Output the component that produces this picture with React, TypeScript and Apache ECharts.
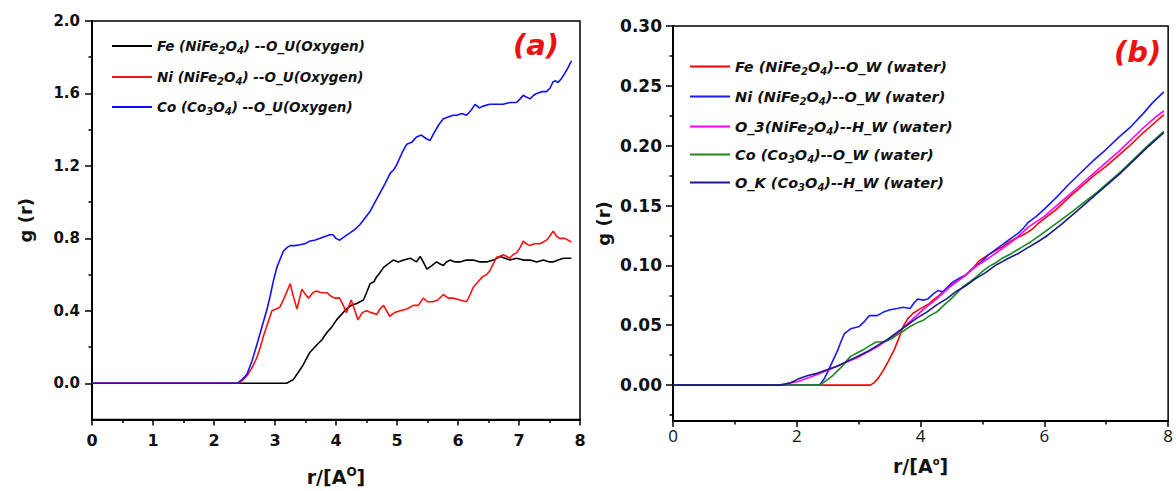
import React, { useEffect, useRef } from "react";
import * as echarts from "echarts";

// ---------- Data ----------
const leftFe: [number, number][] = [
  [0, 0], [3.19, 0], [3.3, 0.02], [3.36, 0.05], [3.46, 0.1], [3.57, 0.17], [3.68, 0.21], [3.77, 0.24], [3.85, 0.28],
  [3.93, 0.31], [4.01, 0.35], [4.09, 0.38], [4.17, 0.41], [4.25, 0.43], [4.34, 0.44], [4.45, 0.46], [4.5, 0.5],
  [4.56, 0.55], [4.62, 0.56], [4.67, 0.59], [4.72, 0.61], [4.78, 0.64], [4.86, 0.66], [4.94, 0.68], [5.02, 0.67],
  [5.11, 0.68], [5.22, 0.69], [5.27, 0.68], [5.32, 0.67], [5.38, 0.7], [5.43, 0.67], [5.49, 0.63], [5.57, 0.65],
  [5.65, 0.67], [5.7, 0.66], [5.76, 0.65], [5.81, 0.67], [5.87, 0.68], [5.95, 0.67], [6.03, 0.67], [6.14, 0.68],
  [6.25, 0.68], [6.36, 0.67], [6.47, 0.67], [6.58, 0.68], [6.69, 0.7], [6.77, 0.69], [6.85, 0.68], [6.96, 0.69],
  [7.07, 0.68], [7.18, 0.68], [7.29, 0.67], [7.4, 0.68], [7.5, 0.67], [7.56, 0.67], [7.64, 0.68], [7.73, 0.69], [7.86, 0.69],
];
const leftNi: [number, number][] = [
  [0, 0], [2.4, 0], [2.48, 0.02], [2.56, 0.05], [2.63, 0.09], [2.7, 0.14], [2.76, 0.2], [2.81, 0.26], [2.88, 0.33],
  [2.95, 0.4], [3.02, 0.41], [3.08, 0.42], [3.15, 0.47], [3.2, 0.51], [3.25, 0.55], [3.3, 0.48], [3.36, 0.41],
  [3.44, 0.52], [3.5, 0.49], [3.55, 0.47], [3.62, 0.5], [3.68, 0.51], [3.76, 0.5], [3.85, 0.5], [3.92, 0.48],
  [3.98, 0.47], [4.06, 0.47], [4.12, 0.43], [4.17, 0.39], [4.25, 0.46], [4.3, 0.41], [4.36, 0.35], [4.43, 0.39],
  [4.5, 0.4], [4.58, 0.39], [4.67, 0.38], [4.72, 0.41], [4.78, 0.43], [4.88, 0.37], [4.96, 0.39], [5.05, 0.4],
  [5.16, 0.41], [5.27, 0.43], [5.35, 0.43], [5.43, 0.47], [5.5, 0.45], [5.59, 0.45], [5.67, 0.46], [5.76, 0.49],
  [5.84, 0.47], [5.92, 0.47], [6.03, 0.46], [6.14, 0.45], [6.2, 0.49], [6.25, 0.53], [6.33, 0.56], [6.41, 0.59],
  [6.47, 0.6], [6.52, 0.62], [6.58, 0.66], [6.63, 0.695], [6.68, 0.7], [6.74, 0.71], [6.8, 0.7], [6.85, 0.69],
  [6.9, 0.71], [6.96, 0.72], [7.02, 0.75], [7.07, 0.785], [7.12, 0.77], [7.18, 0.76], [7.25, 0.77], [7.34, 0.77],
  [7.4, 0.78], [7.45, 0.79], [7.5, 0.81], [7.56, 0.84], [7.62, 0.81], [7.67, 0.8], [7.75, 0.8], [7.86, 0.78],
];
const leftCo: [number, number][] = [
  [0, 0], [2.38, 0], [2.46, 0.02], [2.54, 0.05], [2.62, 0.12], [2.7, 0.21], [2.76, 0.28], [2.81, 0.34], [2.87, 0.41],
  [2.92, 0.48], [2.97, 0.56], [3.03, 0.64], [3.09, 0.69], [3.14, 0.73], [3.2, 0.75], [3.25, 0.76], [3.33, 0.76],
  [3.41, 0.765], [3.49, 0.77], [3.57, 0.785], [3.65, 0.79], [3.74, 0.8], [3.82, 0.81], [3.9, 0.82], [3.95, 0.82],
  [4.0, 0.8], [4.06, 0.79], [4.14, 0.81], [4.23, 0.83], [4.31, 0.85], [4.39, 0.875], [4.47, 0.91], [4.56, 0.95],
  [4.64, 1.0], [4.72, 1.05], [4.8, 1.1], [4.89, 1.16], [4.95, 1.18], [5.0, 1.21], [5.08, 1.27], [5.16, 1.32],
  [5.24, 1.33], [5.32, 1.36], [5.4, 1.37], [5.48, 1.35], [5.54, 1.34], [5.62, 1.39], [5.69, 1.43], [5.76, 1.46],
  [5.84, 1.47], [5.92, 1.48], [5.98, 1.48], [6.06, 1.49], [6.14, 1.48], [6.22, 1.51], [6.28, 1.54], [6.35, 1.52],
  [6.41, 1.53], [6.52, 1.54], [6.63, 1.54], [6.74, 1.54], [6.85, 1.55], [6.96, 1.55], [7.02, 1.57], [7.07, 1.59],
  [7.12, 1.58], [7.18, 1.57], [7.24, 1.59], [7.29, 1.6], [7.37, 1.61], [7.45, 1.61], [7.51, 1.63], [7.56, 1.665],
  [7.6, 1.67], [7.64, 1.66], [7.69, 1.68], [7.73, 1.7], [7.8, 1.74], [7.86, 1.78],
];

const rightFe: [number, number][] = [
  [0, 0], [3.19, 0], [3.25, 0.002], [3.32, 0.006], [3.4, 0.0125], [3.48, 0.02], [3.57, 0.029], [3.64, 0.038],
  [3.72, 0.049], [3.8, 0.056], [3.88, 0.06], [3.97, 0.063], [4.07, 0.066], [4.14, 0.068], [4.2, 0.071], [4.28, 0.074],
  [4.36, 0.078], [4.47, 0.082], [4.57, 0.086], [4.68, 0.09], [4.79, 0.0946], [4.87, 0.099], [4.95, 0.104],
  [5.1, 0.109], [5.2, 0.112], [5.32, 0.1155], [5.42, 0.119], [5.53, 0.1225], [5.64, 0.125], [5.74, 0.128],
  [5.82, 0.131], [5.9, 0.135], [6.0, 0.139], [6.2, 0.147], [6.4, 0.157], [6.6, 0.166], [6.8, 0.175], [7.0, 0.183],
  [7.2, 0.192], [7.4, 0.201], [7.6, 0.211], [7.8, 0.22], [7.93, 0.226],
];
const rightNi: [number, number][] = [
  [0, 0], [2.37, 0], [2.44, 0.005], [2.5, 0.011], [2.58, 0.02], [2.66, 0.029], [2.72, 0.037], [2.77, 0.043],
  [2.87, 0.047], [3.01, 0.049], [3.09, 0.053], [3.17, 0.058], [3.3, 0.058], [3.4, 0.061], [3.51, 0.063], [3.62, 0.064],
  [3.72, 0.065], [3.83, 0.064], [3.9, 0.069], [3.96, 0.072], [4.04, 0.071], [4.12, 0.072], [4.2, 0.076], [4.28, 0.079],
  [4.36, 0.078], [4.44, 0.082], [4.52, 0.086], [4.62, 0.089], [4.73, 0.092], [4.81, 0.096], [4.89, 0.099],
  [5.0, 0.104], [5.1, 0.109], [5.18, 0.112], [5.26, 0.115], [5.34, 0.118], [5.42, 0.121], [5.5, 0.124], [5.58, 0.127],
  [5.66, 0.131], [5.74, 0.136], [5.87, 0.141], [6.0, 0.147], [6.2, 0.157], [6.4, 0.168], [6.6, 0.178], [6.8, 0.188],
  [7.0, 0.197], [7.2, 0.207], [7.4, 0.216], [7.6, 0.227], [7.75, 0.236], [7.93, 0.245],
];
const rightO3: [number, number][] = [
  [0, 0], [1.71, 0], [2.02, 0.003], [2.34, 0.009], [2.66, 0.016], [2.98, 0.023], [3.3, 0.032], [3.62, 0.043],
  [3.83, 0.053], [4.04, 0.063], [4.26, 0.072], [4.47, 0.082], [4.68, 0.09], [4.89, 0.099], [5.1, 0.106], [5.32, 0.114],
  [5.53, 0.122], [5.74, 0.132], [6.0, 0.141], [6.2, 0.15], [6.4, 0.159], [6.6, 0.168], [6.8, 0.177], [7.0, 0.186],
  [7.2, 0.195], [7.4, 0.205], [7.6, 0.215], [7.8, 0.224], [7.93, 0.229],
];
const rightCo: [number, number][] = [
  [0, 0], [2.37, 0], [2.4, 0.001], [2.48, 0.004], [2.56, 0.007], [2.64, 0.011], [2.72, 0.015], [2.8, 0.02],
  [2.87, 0.024], [2.98, 0.027], [3.09, 0.03], [3.18, 0.033], [3.28, 0.036], [3.37, 0.036], [3.46, 0.037],
  [3.54, 0.039], [3.62, 0.042], [3.72, 0.045], [3.83, 0.049], [3.94, 0.052], [4.04, 0.054], [4.15, 0.058],
  [4.26, 0.061], [4.36, 0.066], [4.47, 0.071], [4.57, 0.076], [4.68, 0.082], [4.79, 0.086], [4.89, 0.09], [5.0, 0.095],
  [5.1, 0.099], [5.21, 0.102], [5.32, 0.106], [5.47, 0.11], [5.63, 0.115], [5.79, 0.12], [5.95, 0.126], [6.11, 0.132],
  [6.27, 0.138], [6.45, 0.145], [6.65, 0.153], [6.85, 0.161], [7.05, 0.17], [7.25, 0.179], [7.45, 0.189],
  [7.65, 0.199], [7.93, 0.212],
];
const rightOK: [number, number][] = [
  [0, 0], [1.75, 0], [1.9, 0.002], [2.02, 0.005], [2.18, 0.008], [2.34, 0.01], [2.5, 0.013], [2.66, 0.016],
  [2.82, 0.02], [2.98, 0.024], [3.14, 0.028], [3.3, 0.033], [3.46, 0.038], [3.62, 0.044], [3.78, 0.05], [3.94, 0.056],
  [4.1, 0.061], [4.26, 0.067], [4.42, 0.072], [4.57, 0.078], [4.73, 0.083], [4.89, 0.089], [5.05, 0.094], [5.21, 0.1],
  [5.42, 0.106], [5.58, 0.11], [5.74, 0.115], [5.9, 0.12], [6.05, 0.125], [6.27, 0.134], [6.45, 0.142], [6.65, 0.151],
  [6.85, 0.16], [7.05, 0.169], [7.25, 0.178], [7.45, 0.188], [7.65, 0.198], [7.93, 0.211],
];

const leftYMajor = [0, 0.4, 0.8, 1.2, 1.6, 2.0];
const leftYMinor = [0.2, 0.6, 1.0, 1.4, 1.8];
const rightYMajor = [0, 0.05, 0.1, 0.15, 0.2, 0.25, 0.3];
const rightYMinor = [-0.025, 0.025, 0.075, 0.125, 0.175, 0.225, 0.275];

const leftNames = ["Fe (NiFe2O4) --O_U(Oxygen)", "Ni (NiFe2O4) --O_U(Oxygen)", "Co (Co3O4) --O_U(Oxygen)"];
const leftRich = [
  "{t|Fe (NiFe}{s|2}{t|O}{s|4}{t|) --O_U(Oxygen)}",
  "{t|Ni (NiFe}{s|2}{t|O}{s|4}{t|) --O_U(Oxygen)}",
  "{t|Co (Co}{s|3}{t|O}{s|4}{t|) --O_U(Oxygen)}",
];
const rightNames = [
  "Fe (NiFe2O4)--O_W (water)",
  "Ni (NiFe2O4)--O_W (water)",
  "O_3(NiFe2O4)--H_W (water)",
  "Co (Co3O4)--O_W (water)",
  "O_K (Co3O4)--H_W (water)",
];
const rightRich = [
  "{t|Fe (NiFe}{s|2}{t|O}{s|4}{t|)--O_W (water)}",
  "{t|Ni (NiFe}{s|2}{t|O}{s|4}{t|)--O_W (water)}",
  "{t|O_3(NiFe}{s|2}{t|O}{s|4}{t|)--H_W (water)}",
  "{t|Co (Co}{s|3}{t|O}{s|4}{t|)--O_W (water)}",
  "{t|O_K (Co}{s|3}{t|O}{s|4}{t|)--H_W (water)}",
];

const leftColors = ["#000000", "#ff1010", "#1010ff"];
const rightColors = ["#ff0000", "#1a1aff", "#ff00ff", "#1a8a1a", "#1a1a8a"];

export default function App() {
  const ref = useRef<HTMLDivElement>(null);
  useEffect(() => {
    if (!ref.current) return;
    const chart = echarts.init(ref.current, null, { renderer: "svg" });
    const BOLD = "DejaVu Sans";
    const richStyles = (size: number) => ({
      t: { fontSize: size, fontWeight: "bold", fontStyle: "italic", fontFamily: BOLD, color: "#111" },
      s: {
        fontSize: 10, fontWeight: "bold", fontStyle: "italic", fontFamily: BOLD, color: "#111",
        verticalAlign: "bottom", padding: [9, 0, 0, 0],
      },
    });
    const axisLine = { show: true, onZero: false, lineStyle: { color: "#000", width: 2 } };
    const legendCentersL = [46, 77, 107];
    const legendCentersR = [67, 97, 127, 155, 183];
    const makeLegend = (name: string, rich: string, left: number, top: number, size: number) => ({
      data: [name],
      left,
      top,
      padding: 0,
      icon: "rect",
      itemWidth: 40,
      itemHeight: 2,
      formatter: () => rich,
      textStyle: { rich: richStyles(size) },
    });

    const option: any = {
      animation: false,
      backgroundColor: "#ffffff",
      grid: [
        { left: 92, top: 21, width: 488, height: 408, show: true, borderColor: "#000", borderWidth: 1.5, backgroundColor: "transparent" },
        { left: 673, top: 26, width: 501, height: 395, show: true, borderColor: "#000", borderWidth: 1.5, backgroundColor: "transparent" },
      ],
      legend: [
        ...leftNames.map((n, i) => makeLegend(n, leftRich[i], 112, legendCentersL[i] - 7, 13.5)),
        ...rightNames.map((n, i) => makeLegend(n, rightRich[i], 690, legendCentersR[i] - 8, 14.5)),
      ],
      xAxis: [
        {
          gridIndex: 0, type: "value", min: 0, max: 8, interval: 1,
          axisLine, splitLine: { show: false },
          axisTick: { show: true, length: 6, lineStyle: { color: "#000", width: 1.5 } },
          minorTick: { show: true, splitNumber: 2, length: 3.5, lineStyle: { color: "#000", width: 1.5 } },
          axisLabel: { fontFamily: BOLD, fontWeight: "bold", fontSize: 16, color: "#111", margin: 13 },
          name: "{b|r/[A}{p|O}{b|]}", nameLocation: "middle", nameGap: 46,
          nameTextStyle: {
            rich: {
              b: { fontFamily: BOLD, fontWeight: "bold", fontSize: 19, color: "#111" },
              p: { fontFamily: BOLD, fontWeight: "bold", fontSize: 12, color: "#111", verticalAlign: "top", padding: [0, 0, 10, 0] },
            },
          },
        },
        {
          gridIndex: 1, type: "value", min: 0, max: 8, interval: 2,
          axisLine, splitLine: { show: false },
          axisTick: { show: true, length: 6, lineStyle: { color: "#000", width: 1.5 } },
          minorTick: { show: true, splitNumber: 2, length: 3.5, lineStyle: { color: "#000", width: 1.5 } },
          axisLabel: { fontFamily: "Open Sans", fontSize: 17, color: "#111", margin: 6 },
          name: "{b|r/[A}{p|o}{b|]}", nameLocation: "middle", nameGap: 35,
          nameTextStyle: {
            rich: {
              b: { fontFamily: BOLD, fontWeight: "bold", fontSize: 19, color: "#111" },
              p: { fontFamily: BOLD, fontWeight: "bold", fontSize: 10, color: "#111", verticalAlign: "top", padding: [0, 0, 10, 0] },
            },
          },
        },
      ],
      yAxis: [
        {
          gridIndex: 0, type: "value", min: -0.2, max: 2.0, position: "left",
          axisLine, splitLine: { show: false },
          axisTick: { show: true, length: 7, customValues: leftYMajor, lineStyle: { color: "#000", width: 1.5 } },
          axisLabel: {
            customValues: leftYMajor, formatter: (v: number) => v.toFixed(1),
            fontFamily: BOLD, fontWeight: "bold", fontSize: 15, color: "#111", margin: 12,
          },
          name: "g (r)", nameLocation: "middle", nameGap: 58, nameRotate: 90,
          nameTextStyle: { fontFamily: BOLD, fontWeight: "bold", fontSize: 18, color: "#111" },
        },
        {
          gridIndex: 0, type: "value", min: -0.2, max: 2.0, position: "left",
          axisLine: { show: false }, splitLine: { show: false },
          axisTick: { show: true, length: 3.5, customValues: leftYMinor, lineStyle: { color: "#000", width: 1.5 } },
          axisLabel: { show: false },
        },
        {
          gridIndex: 1, type: "value", min: -0.03, max: 0.3, position: "left",
          axisLine, splitLine: { show: false },
          axisTick: { show: true, length: 7, customValues: rightYMajor, lineStyle: { color: "#000", width: 1.5 } },
          axisLabel: {
            customValues: rightYMajor, formatter: (v: number) => v.toFixed(2),
            fontFamily: BOLD, fontWeight: "bold", fontSize: 17, color: "#111", margin: 11,
          },
          name: "g (r)", nameLocation: "middle", nameGap: 61, nameRotate: 90,
          nameTextStyle: { fontFamily: BOLD, fontWeight: "bold", fontSize: 18, color: "#111" },
        },
        {
          gridIndex: 1, type: "value", min: -0.03, max: 0.3, position: "left",
          axisLine: { show: false }, splitLine: { show: false },
          axisTick: { show: true, length: 3.5, customValues: rightYMinor, lineStyle: { color: "#000", width: 1.5 } },
          axisLabel: { show: false },
        },
      ],
      series: [
        ...[leftFe, leftNi, leftCo].map((d, i) => ({
          name: leftNames[i], type: "line", xAxisIndex: 0, yAxisIndex: 0, data: d,
          symbol: "none", showSymbol: false, color: leftColors[i],
          lineStyle: { color: leftColors[i], width: 1.6 },
        })),
        ...[rightFe, rightNi, rightO3, rightCo, rightOK].map((d, i) => ({
          name: rightNames[i], type: "line", xAxisIndex: 1, yAxisIndex: 2, data: d,
          symbol: "none", showSymbol: false, color: rightColors[i],
          lineStyle: { color: rightColors[i], width: 1.6 },
        })),
      ],
      graphic: [
        {
          type: "text", left: 513, top: 30,
          style: { text: "(a)", fill: "#ee1111", fontFamily: BOLD, fontWeight: "bold", fontStyle: "italic", fontSize: 29 },
        },
        {
          type: "text", left: 1114, top: 37,
          style: { text: "(b)", fill: "#ee1111", fontFamily: BOLD, fontWeight: "bold", fontStyle: "italic", fontSize: 29 },
        },
      ],
    };
    chart.setOption(option);
    return () => chart.dispose();
  }, []);
  return <div ref={ref} style={{ position: "absolute", left: 0, top: 0, width: 1176, height: 491 }} />;
}
